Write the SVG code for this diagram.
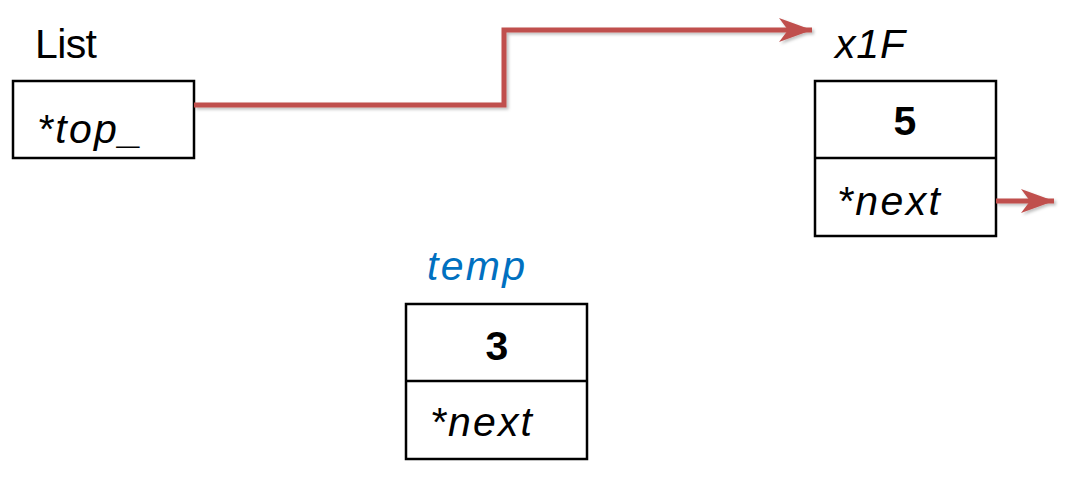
<svg xmlns="http://www.w3.org/2000/svg" width="1072" height="481" viewBox="0 0 1072 481">
  <style>
    .box { fill: #ffffff; stroke: #000000; stroke-width: 2.5; }
    .div { stroke: #000000; stroke-width: 2.5; }
    .lbl { font-family: "Liberation Sans", Arial, sans-serif; font-size: 41px; fill: #000000; }
    .it { font-style: italic; }
    .bold { font-weight: bold; text-anchor: middle; }
    .blue { fill: #0070C0; }
    .wire { fill: none; stroke: #C0504D; stroke-width: 5; }
  </style>
  <defs>
    <filter id="sh" x="-10%" y="-50%" width="120%" height="200%">
      <feDropShadow dx="2" dy="2" stdDeviation="1.5" flood-color="#000000" flood-opacity="0.25"/>
    </filter>
    <marker id="arr" markerUnits="userSpaceOnUse" markerWidth="36" markerHeight="28" refX="33" refY="13" orient="auto">
      <path d="M0,1 L33,13 L0,25 L9,13 Z" fill="#C0504D"/>
    </marker>
  </defs>

  <g id="list">
    <text class="lbl" x="35" y="58" textLength="62">List</text>
    <rect class="box" x="13" y="81" width="181" height="77"/>
    <text class="lbl it" x="37" y="143" textLength="105">*top_</text>
  </g>

  <g id="node-x1F">
    <text class="lbl it" x="835" y="58" textLength="70">x1F</text>
    <rect class="box" x="815" y="81" width="181" height="155"/>
    <line class="div" x1="815" y1="158" x2="996" y2="158"/>
    <text class="lbl bold" x="905" y="135">5</text>
    <text class="lbl it" x="837" y="215" textLength="103">*next</text>
  </g>

  <g id="node-temp">
    <text class="lbl it blue" x="427" y="280" textLength="98">temp</text>
    <rect class="box" x="406" y="304" width="181" height="155"/>
    <line class="div" x1="406" y1="381" x2="587" y2="381"/>
    <text class="lbl bold" x="497" y="360">3</text>
    <text class="lbl it" x="430" y="436" textLength="102">*next</text>
  </g>

  <g id="connectors" filter="url(#sh)">
    <path class="wire" d="M194,105 L504,105 L504,30 L812,30" marker-end="url(#arr)"/>
    <path class="wire" d="M996,201 L1054,201" marker-end="url(#arr)"/>
  </g>
</svg>
